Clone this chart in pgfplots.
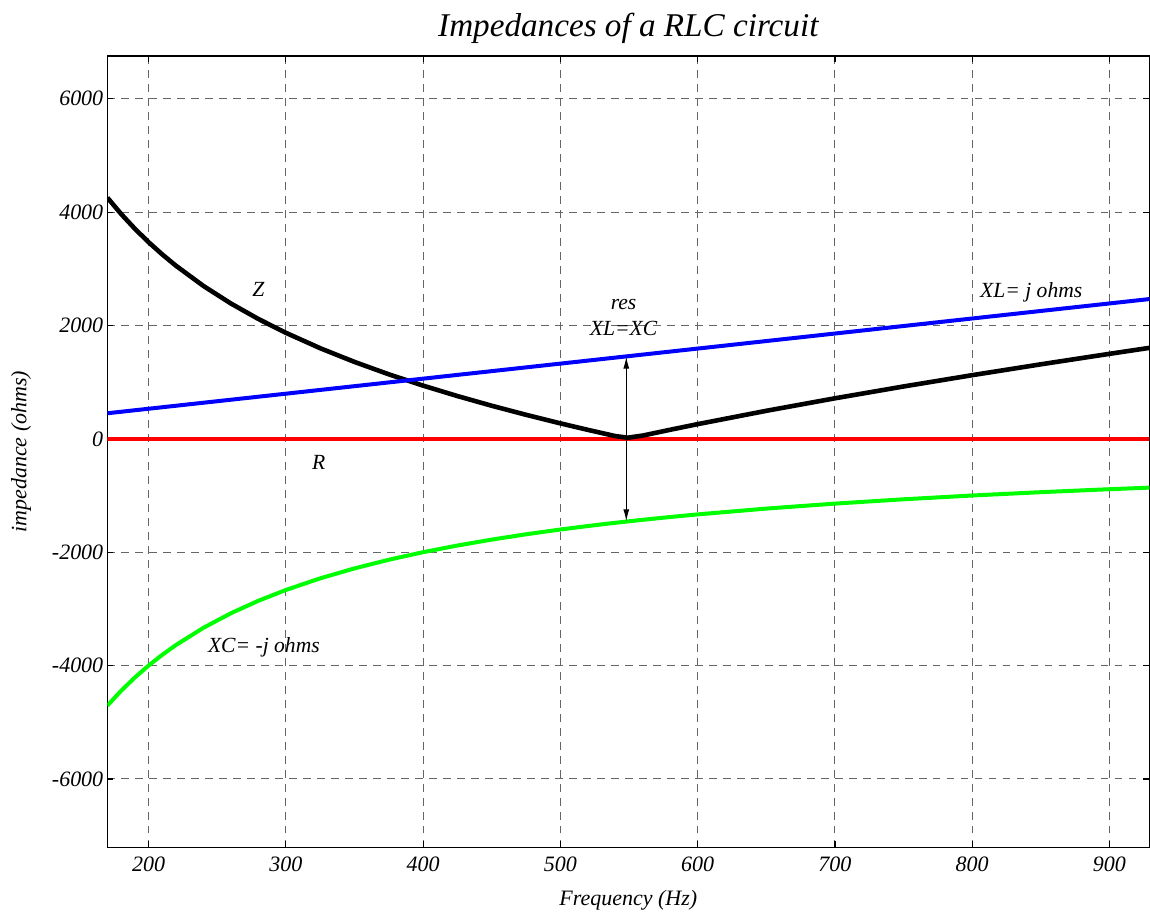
\documentclass[border=0pt]{standalone}
\usepackage{pgfplots}
\pgfplotsset{compat=1.18}
\usepackage{pgfplotstable}
\usepackage{fontspec}
\setmainfont{Liberation Serif}
\usetikzlibrary{arrows.meta}
\definecolor{pblue}{RGB}{0,0,255}
\definecolor{pgreen}{RGB}{0,255,0}
\definecolor{pred}{RGB}{255,0,0}

\pgfplotstableread{
f XL XC Z
170 451.2 -4705.9 4254.7
180 477.7 -4444.4 3966.7
190 504.3 -4210.5 3706.2
200 530.8 -4000.0 3469.2
210 557.3 -3809.5 3252.2
220 583.9 -3636.4 3052.5
240 637.0 -3333.3 2696.3
260 690.0 -3076.9 2386.9
280 743.1 -2857.1 2114.0
300 796.2 -2666.7 1870.5
325 862.6 -2461.5 1598.9
350 928.9 -2285.7 1356.8
375 995.3 -2133.3 1138.0
400 1061.6 -2000.0 938.4
425 1128.0 -1882.4 754.4
450 1194.3 -1777.8 583.5
475 1260.7 -1684.2 423.5
500 1327.0 -1600.0 273.0
520 1380.1 -1538.5 158.4
540 1433.2 -1481.5 48.3
549 1457.0 -1457.2 20.0
560 1486.2 -1428.6 57.6
580 1539.3 -1379.3 160.0
600 1592.4 -1333.3 259.1
650 1725.1 -1230.8 494.3
700 1857.8 -1142.9 714.9
750 1990.5 -1066.7 923.8
800 2123.2 -1000.0 1123.2
850 2255.9 -941.2 1314.7
900 2388.6 -888.9 1499.7
930 2468.2 -860.2 1608.0
}\data

\begin{document}
\begin{tikzpicture}
\begin{axis}[
  scale only axis,
  width=521.25bp, height=396bp,
  xmin=170, xmax=929, ymin=-7210, ymax=6755,
  xtick={200,300,...,900},
  ytick={-6000,-4000,...,6000},
  scaled ticks=false,
  /pgf/number format/assume math mode=true,
  /pgf/number format/1000 sep={},
  ticklabel style={font=\fontsize{11bp}{13bp}\selectfont\itshape},
  xticklabel style={yshift=-1.2bp},
  yticklabel style={inner xsep=1.9bp},
  grid=major,
  major grid style={line width=0.5bp, black!60, dash pattern=on 3.8bp off 3.2bp},
  tick align=inside,
  major tick length=3bp,
  tick style={black, line width=0.6bp},
  axis line style={line width=0.75bp},
  clip=true,
]
\addplot[pred, line width=2bp] coordinates {(170,0) (929,0)};
\addplot[black, line width=2.3bp] table[x=f, y=Z] {\data};
\addplot[pblue, line width=2bp] table[x=f, y=XL] {\data};
\addplot[pgreen, line width=2bp] table[x=f, y=XC] {\data};
\addplot[black, line width=0.5bp, {Latex[length=6bp,width=3bp]}-{Latex[length=6bp,width=3bp]}] coordinates {(548,1450) (548,-1455)};

\begin{scope}[every node/.style={font=\fontsize{10.8bp}{13bp}\selectfont\itshape, inner sep=0pt}]
\node at (axis cs:280,2644) {Z};
\node at (axis cs:324,-424) {R};
\node at (axis cs:546,2362) {res};
\node at (axis cs:546,1955) {XL=XC};
\node at (axis cs:843,2588) {XL= j ohms};
\node at (axis cs:284,-3687) {XC= -j ohms};
\end{scope}
\end{axis}

\node[anchor=base, font=\fontsize{16.6bp}{20bp}\selectfont\itshape] at ([yshift=9.65bp]current axis.north) {Impedances of a RLC circuit};
\node[anchor=base, font=\fontsize{11bp}{13bp}\selectfont\itshape] at ([yshift=-29bp]current axis.south) {Frequency (Hz)};
\node[rotate=90, font=\fontsize{11bp}{13bp}\selectfont\itshape] at ([xshift=-43.25bp]current axis.west) {impedance (ohms)};

\path ([xshift=-53.75bp,yshift=-32bp]current axis.south west) rectangle ([yshift=28bp]current axis.north east);
\end{tikzpicture}
\end{document}
